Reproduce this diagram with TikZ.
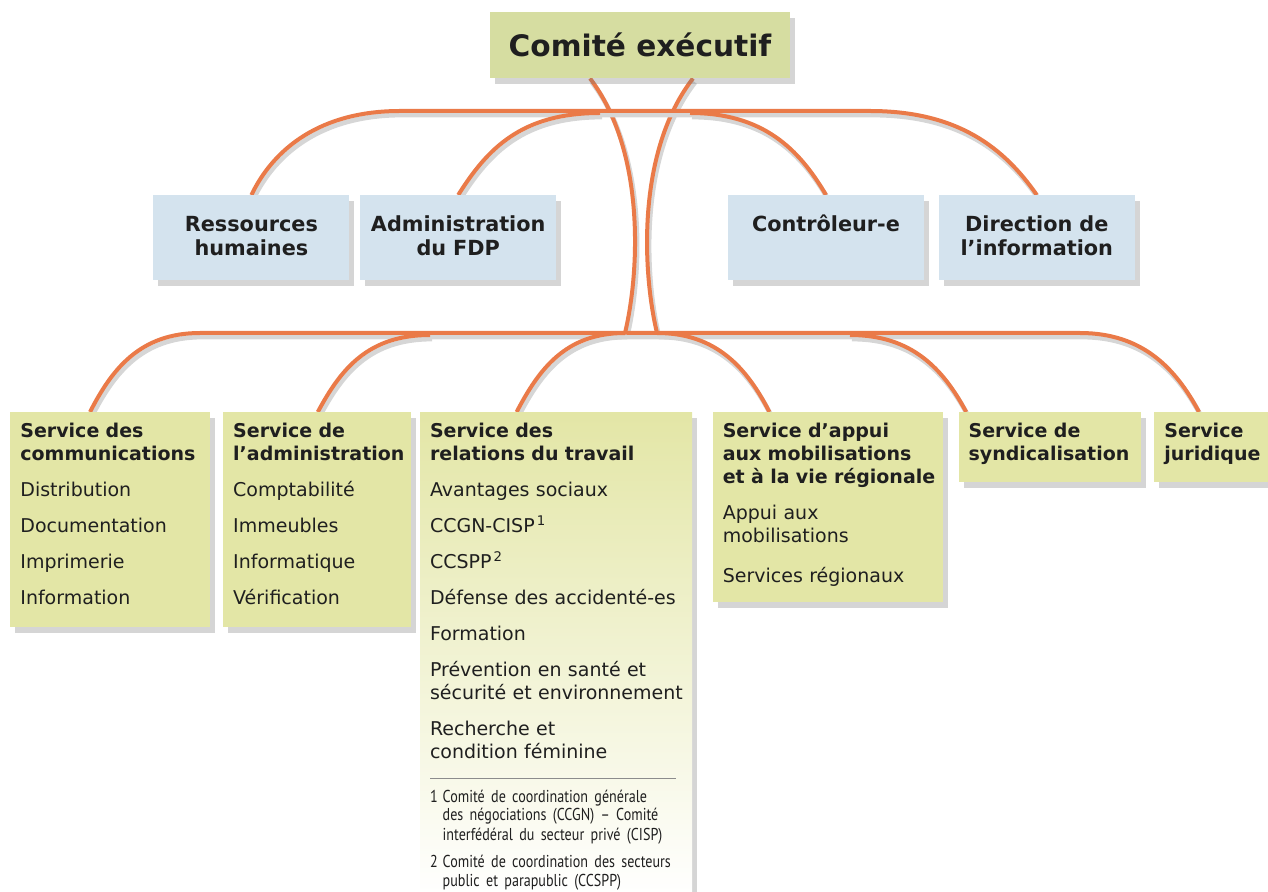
\documentclass[tikz,border=0pt]{standalone}
\usepackage{fontspec}
\setmainfont{DejaVu Sans}
\newfontfamily\notefont[FakeStretch=0.82, WordSpace=0.6]{PT Sans}
\usepackage{xcolor}
\usetikzlibrary{positioning, calc, shadows, backgrounds}
\definecolor{execgreen}{RGB}{214, 221, 161}
\definecolor{boxgreen}{RGB}{227, 230, 166}
\definecolor{boxblue}{RGB}{212, 227, 238}
\definecolor{wireorange}{RGB}{234, 122, 72}
\newcommand{\itemgap}{\\[6.6pt]}

\begin{document}
\begin{tikzpicture}[
    x=0.5pt, y=-0.5pt,
    every node/.style={text=black!88},
    boxshadow/.style={drop shadow={shadow xshift=2.5pt, shadow yshift=-3pt, opacity=0.3, fill=black!55}},
    exec/.style={fill=execgreen, boxshadow, minimum width=150pt, minimum height=33pt, inner sep=0pt, font=\bfseries\fontsize{14.8}{17}\selectfont},
    unit/.style={fill=boxblue, boxshadow, anchor=north west, inner xsep=0pt, inner ysep=10pt, text width=98pt, align=center, text height=8pt, text depth=14.5pt, font=\bfseries\fontsize{10.4}{12}\selectfont},
    service/.style={fill=boxgreen, boxshadow, anchor=north west, inner xsep=5pt, inner ysep=5.5pt, align=left, text height=7.3pt, font=\fontsize{9.5}{11.4}\selectfont},
    wire/.style={draw=wireorange, line width=2pt, preaction={draw=black!16, line width=2.4pt, transform canvas={xshift=1pt, yshift=-2pt}}}
]
    \useasboundingbox (0,0) rectangle (1268,892);

    % comite
    \node[exec] (exec) at (640,45) {Comité exécutif};

    % upper row
    \node[unit] (rh) at (153,195) {Ressources\\humaines};
    \node[unit, right=5pt of rh.north east, anchor=north west] (fdp) {Administration\\du FDP};
    \node[unit, right=85.5pt of fdp.north east, anchor=north west] (ctrl) {Contrôleur-e};
    \node[unit, right=7pt of ctrl.north east, anchor=north west] (info) {Direction de\\l'information};

    % services
    \node[service, text width=90pt, text depth=89pt] (comm) at (10,412) {{\bfseries Service des\\\mbox{communications}}\itemgap
        Distribution\itemgap Documentation\itemgap Imprimerie\itemgap Information};
    \node[service, text width=84pt, text depth=89pt, right=6pt of comm.north east, anchor=north west] (admin) {{\bfseries Service de\\\mbox{l'administration}}\itemgap
        Comptabilité\itemgap Immeubles\itemgap Informatique\itemgap Vérification};
    \node[service, text width=126pt, text depth=224pt, top color=boxgreen, middle color=boxgreen, bottom color=white, right=4pt of admin.north east, anchor=north west] (reltrav) {{\bfseries Service des\\relations du travail}\itemgap
        Avantages sociaux\itemgap
        CCGN-CISP\textsuperscript{\,1}\itemgap
        CCSPP\textsuperscript{\,2}\itemgap
        \mbox{Défense des accidenté-es}\itemgap
        Formation\itemgap
        Prévention en santé et\\\mbox{sécurité et environnement}\itemgap
        Recherche et\\condition féminine\par
        \vspace{-1pt}{\color{black!45}\rule{123pt}{0.5pt}}\par
        {\notefont\fontsize{8.6}{9.5}\selectfont
        \begin{tabular}[t]{@{}l@{\hspace{2.5pt}}l@{}}
            1 & Comité de coordination générale\\
              & des négociations (CCGN) – Comité\\
              & interfédéral du secteur privé (CISP)\\[4pt]
            2 & Comité de coordination des secteurs\\
              & public et parapublic (CCSPP)
        \end{tabular}}};
    \node[service, text width=105pt, text depth=76.5pt, right=10pt of reltrav.north east, anchor=north west] (appui) {{\bfseries Service d'appui\\aux mobilisations\\\mbox{et à la vie régionale}}\itemgap
        Appui aux\\mobilisations\\[8.6pt] Services régionaux};
    \node[service, text width=81pt, text depth=16.5pt, right=7.5pt of appui.north east, anchor=north west] (syndic) {{\bfseries Service de\\\mbox{syndicalisation}}};
    \node[service, text width=55pt, text depth=16.5pt, right=6.5pt of syndic.north east, anchor=north west] (jurid) {{\bfseries Service\\juridique}};

    % junctions on the two bars
    \coordinate (topL) at (400,111);
    \coordinate (topR) at (870,111);
    \coordinate (fdpJ) at (600,113);
    \coordinate (ctrlJ) at (690,113);
    \coordinate (lowL) at (200,333);
    \coordinate (lowR) at (1080,333);
    \coordinate (hubL) at (625,333);
    \coordinate (hubR) at (657,333);
    \coordinate (adminJ) at (430,335);
    \coordinate (syndicJ) at (850,335);

    \begin{scope}[on background layer]
        \draw[wire] ($(exec.south)+(-50,0)$) .. controls +(55,72) and +(15,-63) .. (hubL);
        \draw[wire] ($(exec.south)+(53,0)$) .. controls +(-56,72) and +(-15,-63) .. (hubR);
        \draw[wire] (rh.north) .. controls +(22,-46) and +(-80,0) .. (topL) -- (topR) .. controls +(89,0) and +(-32,-46) .. (info.north);
        \draw[wire] (fdp.north) .. controls +(29,-46) and +(-79,0) .. (fdpJ);
        \draw[wire] (ctrl.north) .. controls +(-27,-46) and +(73,0) .. (ctrlJ);
        \draw[wire] ($(comm.north west)+(80,0)$) .. controls +(22,-43) and +(-60,0) .. (lowL) -- (lowR) .. controls +(63,0) and +(-23,-43) .. ($(jurid.north west)+(45,0)$);
        \draw[wire] ($(admin.north west)+(95,0)$) .. controls +(23,-43) and +(-62,0) .. (adminJ);
        \draw[wire] ($(reltrav.north west)+(97,0)$) .. controls +(22,-42) and +(-60,0) .. (hubL);
        \draw[wire] ($(appui.north west)+(57,0)$) .. controls +(-22,-43) and +(60,0) .. (hubR);
        \draw[wire] ($(syndic.north west)+(8,0)$) .. controls +(-23,-43) and +(62,0) .. (syndicJ);
    \end{scope}
\end{tikzpicture}
\end{document}
